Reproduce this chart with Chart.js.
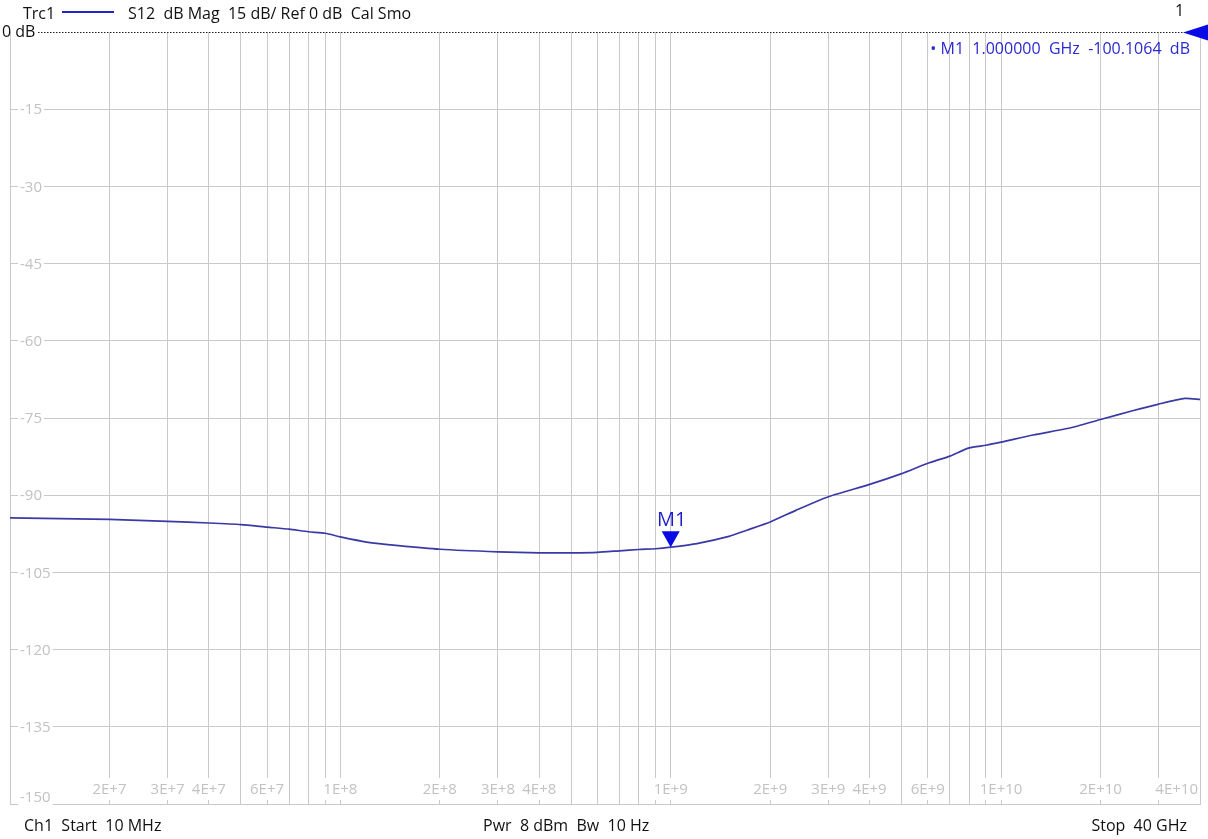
<!DOCTYPE html>
<html>
<head>
<meta charset="utf-8">
<script src="https://cdn.jsdelivr.net/npm/chart.js@4.4.1/dist/chart.umd.min.js"></script>
<style>
  body { margin: 0; background: #fff; }
  #wrap { position: relative; width: 1208px; height: 839px; overflow: hidden; }
  canvas { position: absolute; left: 0; top: 0; }
  .txt { position: absolute; font-family: "Open Sans", "DejaVu Sans", sans-serif; white-space: pre; font-size: 16px; line-height: 18px; color: #111; }
  .mk  { color: #2a2ad0; }
</style>
</head>
<body>
<div id="wrap">
  <canvas id="trace" width="1208" height="839"></canvas>
  <div class="txt" style="left:23px;top:4px">Trc1</div>
  <div style="position:absolute;left:62px;top:11px;width:52px;height:2px;background:#2323c8"></div>
  <div class="txt" style="left:128px;top:4px">S12  dB Mag  15 dB/ Ref 0 dB  Cal Smo</div>
  <div class="txt" style="left:1175px;top:1px">1</div>
  <div class="txt" style="left:2px;top:22px">0 dB</div>
  <div class="txt mk" style="right:18px;top:39px">• M1  1.000000  GHz  -100.1064  dB</div>
  <div class="txt" style="left:24px;top:816px">Ch1  Start  10 MHz</div>
  <div class="txt" style="left:483px;top:816px">Pwr  8 dBm  Bw  10 Hz</div>
  <div class="txt" style="right:21px;top:816px">Stop  40 GHz</div>
</div>
<script>
// ── Datos de la traza (Hz / dB) ──
const freqs = [1e7, 2e7, 3e7, 4e7, 5e7, 6e7, 7e7, 8e7, 9e7,
               1e8, 1.2e8, 1.5e8, 2e8, 3e8, 4e8, 5e8, 6e8, 7e8, 8e8, 9e8,
               1e9, 1.2e9, 1.5e9, 1.7e9, 2e9, 2.4e9, 3e9, 4e9, 5e9, 6e9, 7e9, 8e9, 9e9,
               1e10, 1.25e10, 1.6e10, 2e10, 2.5e10, 3e10, 3.6e10, 4e10];
const s12dB = [-94.4, -94.7, -95.1, -95.4, -95.7, -96.2, -96.6, -97.1, -97.4,
               -98.1, -99.1, -99.8, -100.5, -101.0, -101.2, -101.2, -101.1, -100.8, -100.55, -100.4,
               -100.1, -99.4, -98.0, -96.8, -95.2, -92.9, -90.3, -87.9, -85.8, -83.8, -82.4, -80.8, -80.3,
               -79.7, -78.3, -77.0, -75.3, -73.6, -72.3, -71.2, -71.4];

// ── Ejes ──
const xGridValues = [1e7, 2e7, 3e7, 4e7, 5e7, 6e7, 7e7, 8e7, 9e7,
                     1e8, 2e8, 3e8, 4e8, 5e8, 6e8, 7e8, 8e8, 9e8,
                     1e9, 2e9, 3e9, 4e9, 5e9, 6e9, 7e9, 8e9, 9e9,
                     1e10, 2e10, 3e10, 4e10];
const xLabelValues = [2e7, 3e7, 4e7, 6e7, 1e8, 2e8, 3e8, 4e8, 1e9, 2e9, 3e9, 4e9, 6e9, 1e10, 2e10, 4e10];
const xLabels      = ['2E+7', '3E+7', '4E+7', '6E+7', '1E+8', '2E+8', '3E+8', '4E+8',
                      '1E+9', '2E+9', '3E+9', '4E+9', '6E+9', '1E+10', '2E+10', '4E+10'];
const yTicks  = [-15, -30, -45, -60, -75, -90, -105, -120, -135, -150];

// ── Marcador ──
const markerName  = 'M1';
const markerFreq  = 1e9;
const markerValue = -100.1064;

const GRID = '#c9c9c9';
const LABEL = '#c2c2c2';
const FONT = '"Open Sans", "DejaVu Sans", sans-serif';

const overlay = {
    id: 'overlay',
    afterDraw(chart) {
        const { ctx, chartArea: a, scales: { x, y } } = chart;
        ctx.save();

        // línea de referencia 0 dB (punteada)
        const y0 = Math.round(y.getPixelForValue(0)) + 0.5;
        ctx.strokeStyle = '#222';
        ctx.lineWidth = 1;
        ctx.setLineDash([1.5, 1.5]);
        ctx.beginPath();
        ctx.moveTo(38, y0);
        ctx.lineTo(a.right, y0);
        ctx.stroke();
        ctx.setLineDash([]);

        // etiquetas eje Y dentro del área
        ctx.font = `15px ${FONT}`;
        ctx.textBaseline = 'middle';
        ctx.textAlign = 'left';
        yTicks.forEach(v => {
            let py = y.getPixelForValue(v);
            if (v === -150) py -= 7;
            const w = ctx.measureText(String(v)).width;
            ctx.fillStyle = '#fff';
            ctx.fillRect(a.left + 8, py - 8, w + 4, 16);
            ctx.fillStyle = LABEL;
            ctx.fillText(String(v), a.left + 10, py + 1);
        });

        // etiquetas eje X dentro del área
        ctx.textAlign = 'center';
        const ly = a.bottom - 15;
        xLabelValues.forEach((v, i) => {
            const w = ctx.measureText(xLabels[i]).width;
            let px = x.getPixelForValue(v);
            if (px + w / 2 > a.right - 2) px = a.right - 2 - w / 2;
            ctx.fillStyle = '#fff';
            ctx.fillRect(px - w / 2 - 1, ly - 11, w + 2, 22);
            ctx.fillStyle = LABEL;
            ctx.fillText(xLabels[i], px, ly + 1);
        });

        // marcador M1
        const mx = x.getPixelForValue(markerFreq);
        const my = y.getPixelForValue(markerValue);
        ctx.fillStyle = '#0a0ae6';
        ctx.beginPath();
        ctx.moveTo(mx, my);
        ctx.lineTo(mx - 9, my - 16);
        ctx.lineTo(mx + 9, my - 16);
        ctx.closePath();
        ctx.fill();
        ctx.fillStyle = '#1e1ec8';
        ctx.font = `20px ${FONT}`;
        ctx.textAlign = 'center';
        ctx.textBaseline = 'alphabetic';
        ctx.fillText(markerName, mx + 1, my - 21);

        // indicador de referencia (derecha)
        ctx.fillStyle = '#0a0ae6';
        ctx.beginPath();
        ctx.moveTo(1183, y0);
        ctx.lineTo(1208, y0 - 8);
        ctx.lineTo(1208, y0 + 8);
        ctx.closePath();
        ctx.fill();

        ctx.restore();
    }
};

new Chart(document.getElementById('trace'), {
    type: 'line',
    data: {
        datasets: [{
            data: freqs.map((f, i) => ({ x: f, y: s12dB[i] })),
            borderColor: '#3a3aa6',
            borderWidth: 1.7,
            pointRadius: 0,
            tension: 0.2,
            fill: false,
        }]
    },
    options: {
        responsive: false,
        animation: false,
        layout: { padding: { left: 10, top: 32, right: 8, bottom: 35 } },
        plugins: { legend: { display: false }, tooltip: { enabled: false } },
        scales: {
            x: {
                type: 'logarithmic',
                min: 1e7,
                max: 4e10,
                afterBuildTicks: s => { s.ticks = xGridValues.map(v => ({ value: v })); },
                ticks: { display: false },
                grid: { color: GRID, drawTicks: false },
                border: { color: GRID },
            },
            y: {
                min: -150,
                max: 0,
                afterBuildTicks: s => { s.ticks = yTicks.map(v => ({ value: v })); },
                ticks: { display: false },
                grid: { color: GRID, drawTicks: false },
                border: { color: GRID },
            }
        }
    },
    plugins: [overlay]
});
</script>
</body>
</html>
